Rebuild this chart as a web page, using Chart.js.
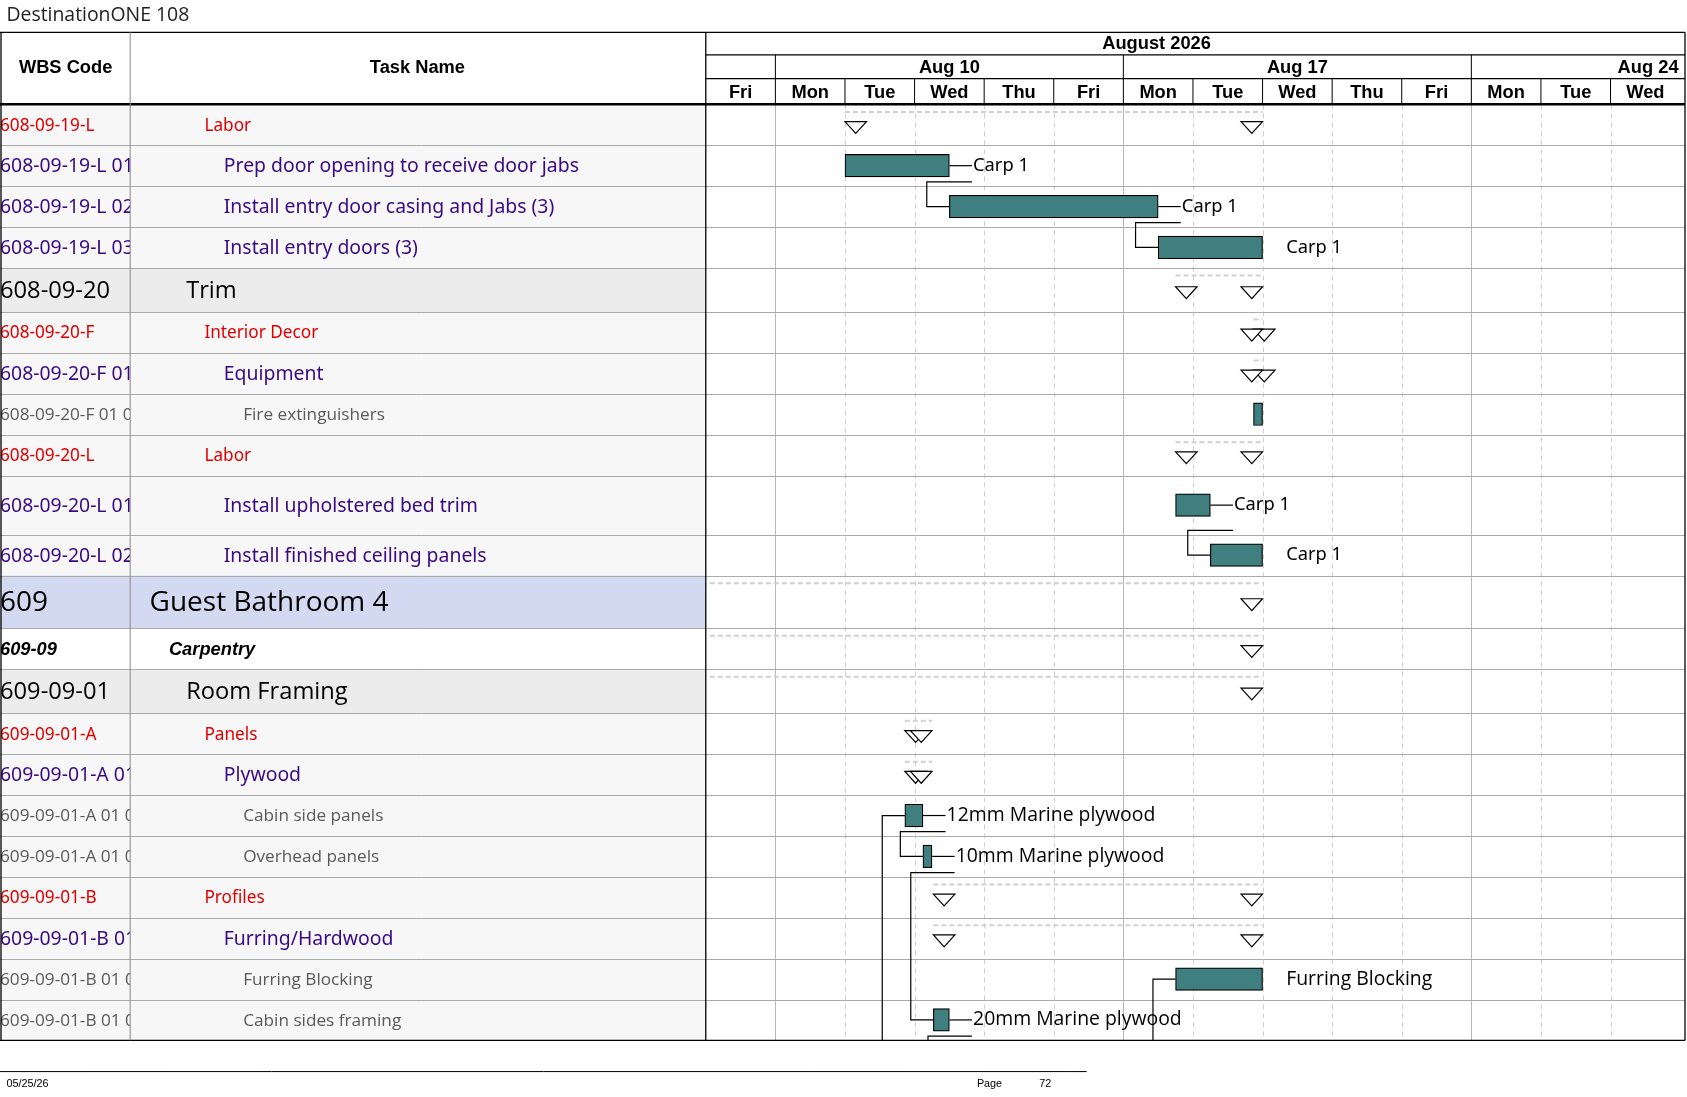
<!DOCTYPE html>
<html>
<head>
<meta charset="utf-8">
<script src="https://cdn.jsdelivr.net/npm/chart.js@4"></script>
<style>
  html, body { margin: 0; padding: 0; background: #fff; }
  #wrap { width: 1687px; height: 1097px; }
</style>
</head>
<body>
<div id="wrap"><canvas id="gantt"></canvas></div>
<script>
// rows of the task table
const wbsCodes = ['608-09-19-L', '608-09-19-L 01', '608-09-19-L 02', '608-09-19-L 03', '608-09-20', '608-09-20-F',
  '608-09-20-F 01', '608-09-20-F 01 01', '608-09-20-L', '608-09-20-L 01', '608-09-20-L 02', '609', '609-09', '609-09-01',
  '609-09-01-A', '609-09-01-A 01', '609-09-01-A 01 01', '609-09-01-A 01 02', '609-09-01-B', '609-09-01-B 01',
  '609-09-01-B 01 01', '609-09-01-B 01 02'];
const taskNames = ['Labor', 'Prep door opening to receive door jabs', 'Install entry door casing and Jabs (3)',
  'Install entry doors (3)', 'Trim', 'Interior Decor', 'Equipment', 'Fire extinguishers', 'Labor',
  'Install upholstered bed trim', 'Install finished ceiling panels', 'Guest Bathroom 4', 'Carpentry', 'Room Framing',
  'Panels', 'Plywood', 'Cabin side panels', 'Overhead panels', 'Profiles', 'Furring/Hardwood', 'Furring Blocking',
  'Cabin sides framing'];
const levels = [4, 5, 5, 5, 3, 4, 5, 6, 4, 5, 5, 1, 2, 3, 4, 5, 6, 6, 4, 5, 6, 6];

// timescale: working days from Fri Aug 7 (index 0)
const dayLabels = ['Fri', 'Mon', 'Tue', 'Wed', 'Thu', 'Fri', 'Mon', 'Tue', 'Wed', 'Thu', 'Fri', 'Mon', 'Tue', 'Wed'];
const weekLabels = ['Aug 10', 'Aug 17', 'Aug 24'];
const weekStarts = [1, 6, 11];
const monthLabel = 'August 2026';

// task bars (day index)
const barRows = [1, 2, 3, 7, 9, 10, 16, 17, 20, 21];
const barStarts = [2, 3.5, 6.5, 7.87, 6.75, 7.25, 2.86, 3.12, 6.75, 3.27];
const barEnds = [3.5, 6.5, 8, 8, 7.25, 8, 3.12, 3.25, 8, 3.5];
const barLabels = ['Carp 1', 'Carp 1', 'Carp 1', '', 'Carp 1', 'Carp 1', '12mm Marine plywood', '10mm Marine plywood',
  'Furring Blocking', '20mm Marine plywood'];
const barLeaders = [true, true, false, false, true, false, true, true, false, true];
const links = [[0, 1], [1, 2], [4, 5], [6, 7], [7, 9]];

// summary rows
const sumRows = [0, 4, 5, 6, 8, 11, 12, 13, 14, 15, 18, 19];
const sumStarts = [2, 6.75, 7.87, 7.87, 6.75, -5, -5, -5, 2.86, 2.86, 3.27, 3.27];
const sumEnds = [8, 8, 8, 8, 8, 8, 8, 8, 3.25, 3.25, 8, 8];

// layout (reference px, scaled by S)
const S = 1687 / 1568;
const rowHeights = [38, 38, 38, 38, 41, 38, 38, 38, 38, 55, 38, 49, 38, 41, 38, 38, 38, 38, 38, 38, 38, 38];
const rowTops = [];
let acc = 0;
rowHeights.forEach(h => { rowTops.push(acc); acc += h; });
const totalH = acc;
const rowMid = i => rowTops[i] + rowHeights[i] / 2;

const levelStyle = {
  1: { font: '26px "Open Sans"', color: '#000', indent: 139 },
  2: { font: 'bold italic 17px Arial', color: '#000', indent: 157 },
  3: { font: '22px "Open Sans"', color: '#000', indent: 173 },
  4: { font: '16px "Noto Sans"', color: '#e00000', indent: 190 },
  5: { font: '18px "Noto Sans"', color: '#3a0a84', indent: 208 },
  6: { font: '16px "Open Sans"', color: '#595959', indent: 226 }
};
const f = s => s.replace(/(\d+)px/, (m, n) => (n * S).toFixed(1) + 'px');

const ganttPlugin = {
  id: 'gantt',
  beforeDatasetsDraw(chart) {
    const c = chart.ctx, xs = chart.scales.x, ys = chart.scales.y, a = chart.chartArea;
    c.save();
    // row backgrounds
    rowHeights.forEach((h, i) => {
      const t = ys.getPixelForValue(rowTops[i]), b = ys.getPixelForValue(rowTops[i] + h);
      let bg = '#f7f7f7';
      if (levels[i] === 3) bg = '#ececec';
      if (levels[i] === 1) bg = '#d3d9f0';
      if (levels[i] === 2) bg = '#ffffff';
      c.fillStyle = bg;
      c.fillRect(0, t, 656 * S, b - t);
    });
    // day grid
    for (let d = 1; d < dayLabels.length; d++) {
      const x = Math.round(xs.getPixelForValue(d)) + 0.5;
      c.strokeStyle = weekStarts.includes(d) ? '#b8b8b8' : '#cfcfcf';
      c.setLineDash(weekStarts.includes(d) ? [] : [5, 4]);
      c.lineWidth = 1;
      c.beginPath(); c.moveTo(x, a.top); c.lineTo(x, a.bottom); c.stroke();
    }
    c.setLineDash([]);
    // row lines
    c.strokeStyle = '#aaaaaa';
    rowTops.slice(1).forEach(t => {
      const y = Math.round(ys.getPixelForValue(t)) + 0.5;
      c.beginPath(); c.moveTo(0, y); c.lineTo(a.right, y); c.stroke();
    });
    // summary dashes and triangles
    sumRows.forEach((r, k) => {
      const x0 = Math.max(xs.getPixelForValue(sumStarts[k]), a.left + 4), x1 = xs.getPixelForValue(sumEnds[k]);
      const yd = ys.getPixelForValue(rowTops[r]) + 7 * S;
      c.strokeStyle = '#d0d0d0'; c.lineWidth = 2; c.setLineDash([5, 3]);
      c.beginPath(); c.moveTo(x0, yd); c.lineTo(x1, yd); c.stroke();
      c.setLineDash([]);
      const yt = ys.getPixelForValue(rowMid(r)) - 3 * S;
      const tri = cx => {
        c.beginPath();
        c.moveTo(cx - 10 * S, yt); c.lineTo(cx + 10 * S, yt); c.lineTo(cx, yt + 11 * S); c.closePath();
        c.fillStyle = '#fff'; c.fill(); c.strokeStyle = '#000'; c.lineWidth = 1.2; c.stroke();
      };
      if (sumStarts[k] >= 0) tri(xs.getPixelForValue(sumStarts[k]) + 10 * S);
      tri(x1 - 10 * S);
    });
    // dependency links
    c.strokeStyle = '#000'; c.lineWidth = 1.2;
    links.forEach(([p, s]) => {
      const xe = xs.getPixelForValue(barEnds[p]) + 21 * S;
      const yb = ys.getPixelForValue(rowTops[barRows[p]] + rowHeights[barRows[p]]) - 4 * S;
      const xsS = xs.getPixelForValue(barStarts[s]);
      const ym = ys.getPixelForValue(rowMid(barRows[s]));
      c.beginPath(); c.moveTo(xe, yb); c.lineTo(xsS - 21 * S, yb); c.lineTo(xsS - 21 * S, ym); c.lineTo(xsS, ym); c.stroke();
    });
    // links continuing to the next page
    [6, 8].forEach(b => {
      const xsS = xs.getPixelForValue(barStarts[b]), ym = ys.getPixelForValue(rowMid(barRows[b]));
      c.beginPath(); c.moveTo(xsS, ym); c.lineTo(xsS - 21 * S, ym); c.lineTo(xsS - 21 * S, a.bottom); c.stroke();
    });
    {
      const b = 9, xe = xs.getPixelForValue(barEnds[b]) + 21 * S;
      const yb = ys.getPixelForValue(rowTops[barRows[b]] + rowHeights[barRows[b]]) - 4 * S;
      c.beginPath(); c.moveTo(xe, yb); c.lineTo(xs.getPixelForValue(barStarts[b]) - 5 * S, yb);
      c.lineTo(xs.getPixelForValue(barStarts[b]) - 5 * S, a.bottom); c.stroke();
    }
    c.restore();
  },
  afterDatasetsDraw(chart) {
    const c = chart.ctx, xs = chart.scales.x, ys = chart.scales.y, a = chart.chartArea;
    c.save();
    // bar labels
    c.textBaseline = 'middle';
    barRows.forEach((r, k) => {
      if (!barLabels[k]) return;
      const xe = xs.getPixelForValue(barEnds[k]), y = ys.getPixelForValue(rowMid(r));
      if (barLeaders[k]) {
        c.strokeStyle = '#000'; c.lineWidth = 1.2;
        c.beginPath(); c.moveTo(xe, y); c.lineTo(xe + 21 * S, y); c.stroke();
      }
      c.fillStyle = '#000';
      c.font = f(barLabels[k].startsWith('Carp') ? '17px "Noto Sans"' : '18px "Open Sans"');
      c.fillText(barLabels[k], xe + 22 * S, y);
    });
    // task table text
    rowHeights.forEach((h, i) => {
      const y = ys.getPixelForValue(rowMid(i)) + 1;
      const st = levelStyle[levels[i]];
      c.fillStyle = st.color;
      c.font = f(st.font);
      c.save(); c.beginPath(); c.rect(0, y - 30, 121 * S, 60); c.clip();
      c.fillText(wbsCodes[i], 0, y); c.restore();
      c.fillText(taskNames[i], st.indent * S, y);
    });
    // header
    c.fillStyle = '#fff';
    c.fillRect(0, 0, chart.width, a.top);
    c.fillStyle = '#222'; c.font = f('18px "Open Sans"'); c.textAlign = 'left';
    c.fillText('DestinationONE 108', 6 * S, 14 * S);
    c.strokeStyle = '#000'; c.lineWidth = 1.3;
    const hl = (x0, y0, x1, y1) => { c.beginPath(); c.moveTo(x0, y0); c.lineTo(x1, y1); c.stroke(); };
    hl(0, 30 * S, a.right, 30 * S);
    hl(a.left, 51 * S, a.right, 51 * S);
    hl(a.left, 73 * S, a.right, 73 * S);
    c.lineWidth = 2.5; hl(0, a.top, a.right, a.top);
    c.lineWidth = 1.3; hl(0, a.bottom, a.right, a.bottom);
    hl(1, 30 * S, 1, a.bottom);
    hl(a.left, 30 * S, a.left, a.bottom);
    hl(a.right, 30 * S, a.right, a.bottom);
    c.strokeStyle = '#888'; c.lineWidth = 1;
    hl(121 * S, 30 * S, 121 * S, a.bottom);
    c.strokeStyle = '#000';
    for (let d = 1; d < dayLabels.length; d++) {
      const x = xs.getPixelForValue(d);
      hl(x, 73 * S, x, a.top);
    }
    weekStarts.forEach(d => { const x = xs.getPixelForValue(d); hl(x, 51 * S, x, 73 * S); });
    c.fillStyle = '#000'; c.font = f('bold 17px Arial'); c.textAlign = 'center';
    c.fillText('WBS Code', 61 * S, 63 * S);
    c.fillText('Task Name', 388 * S, 63 * S);
    c.fillText(monthLabel, 1075 * S, 41 * S);
    dayLabels.forEach((d, i) => c.fillText(d, xs.getPixelForValue(i + 0.5), 86 * S));
    weekLabels.forEach((w, k) => {
      const x0 = xs.getPixelForValue(weekStarts[k]);
      const x1 = Math.min(xs.getPixelForValue(weekStarts[k] + 5), a.right);
      if (x1 - x0 > 300) c.fillText(w, (x0 + x1) / 2, 63 * S);
      else { c.textAlign = 'right'; c.fillText(w, a.right - 6 * S, 63 * S); c.textAlign = 'center'; }
    });
    // footer
    c.strokeStyle = '#000'; c.lineWidth = 1;
    hl(0, 996 * S, 1010 * S, 996 * S);
    c.font = f('10px Arial'); c.textAlign = 'left';
    c.fillText('05/25/26', 6 * S, 1008 * S);
    c.fillText('Page', 908 * S, 1008 * S);
    c.fillText('72', 966 * S, 1008 * S);
    c.restore();
  }
};

new Chart(document.getElementById('gantt'), {
  type: 'bar',
  data: {
    datasets: [{
      data: barRows.map((r, k) => ({ x: [barStarts[k], barEnds[k]], y: rowMid(r) })),
      backgroundColor: '#3f7f7f',
      borderColor: '#000',
      borderWidth: 1.2,
      borderSkipped: false,
      barThickness: 21 * S
    }]
  },
  options: {
    indexAxis: 'y',
    responsive: true,
    maintainAspectRatio: false,
    animation: false,
    layout: { padding: { left: 656 * S, top: 97 * S, right: 2, bottom: 1097 - 967 * S } },
    scales: {
      x: { type: 'linear', min: 0, max: 14.07, display: false, offset: false },
      y: { type: 'linear', min: 0, max: totalH, reverse: true, display: false, offset: false }
    },
    plugins: { legend: { display: false }, tooltip: { enabled: false } }
  },
  plugins: [ganttPlugin]
});
</script>
</body>
</html>
